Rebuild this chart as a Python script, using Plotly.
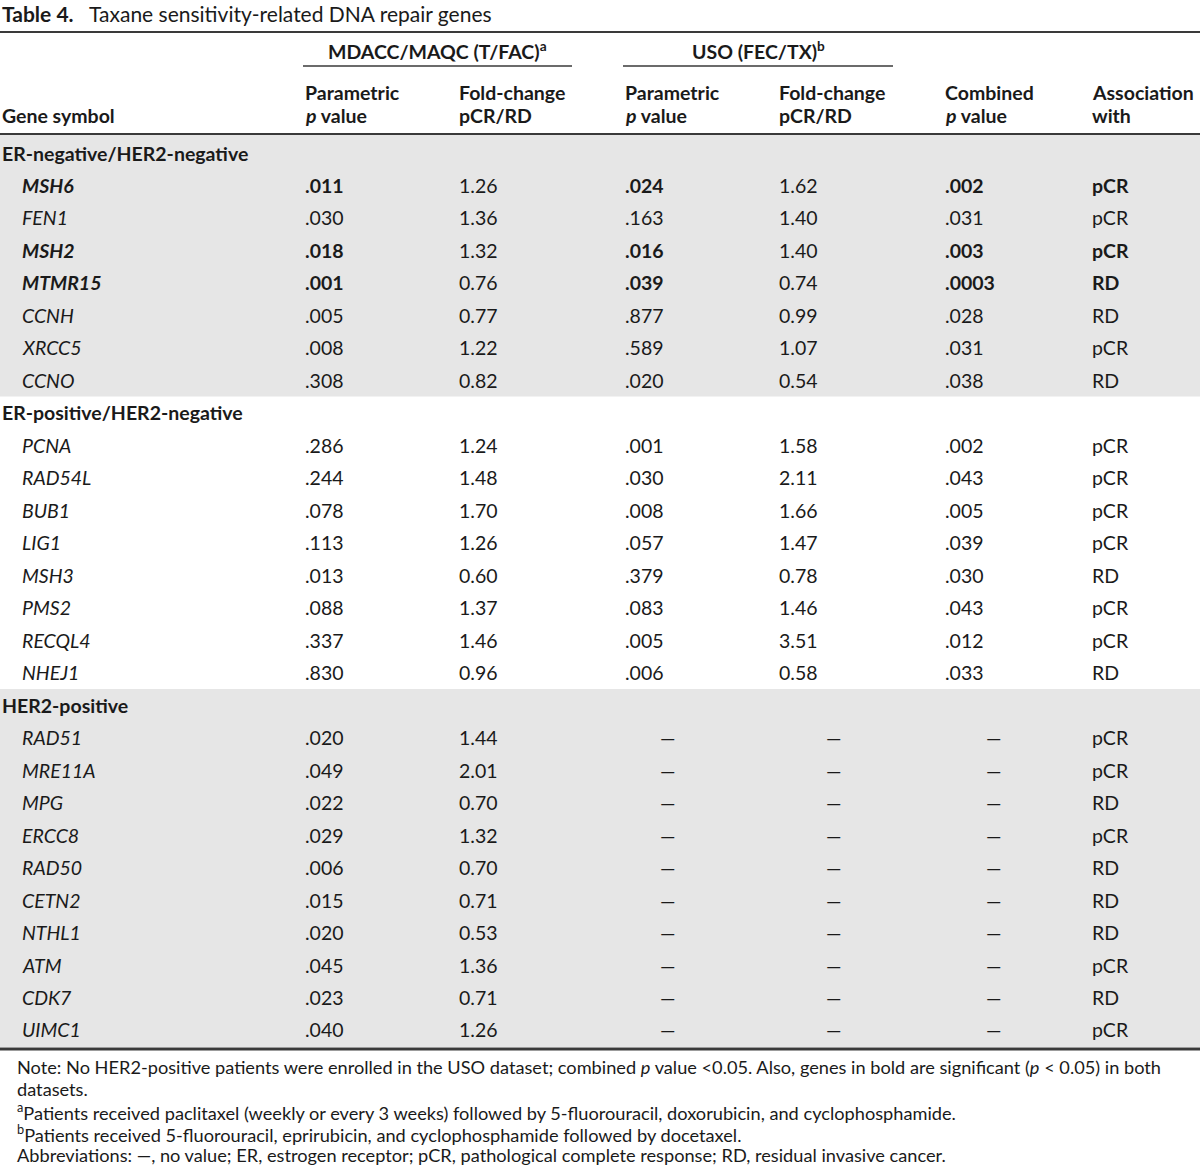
import plotly.graph_objects as go

# ---------------- data ----------------
title_label = "Table 4."
title_text = "Taxane sensitivity-related DNA repair genes"

group_headers = ["MDACC/MAQC (T/FAC)<sup>a</sup>", "USO (FEC/TX)<sup>b</sup>"]
col_headers_1 = ["Parametric", "Fold-change", "Parametric", "Fold-change", "Combined", "Association"]
col_headers_2 = ["<i>p</i> value", "pCR/RD", "<i>p</i> value", "pCR/RD", "<i>p</i> value", "with"]
first_col_header = "Gene symbol"

sections = ["ER-negative/HER2-negative", "ER-positive/HER2-negative", "HER2-positive"]

sec1_genes = ["MSH6", "FEN1", "MSH2", "MTMR15", "CCNH", "XRCC5", "CCNO"]
sec1_mdacc_p = [".011", ".030", ".018", ".001", ".005", ".008", ".308"]
sec1_mdacc_fc = ["1.26", "1.36", "1.32", "0.76", "0.77", "1.22", "0.82"]
sec1_uso_p = [".024", ".163", ".016", ".039", ".877", ".589", ".020"]
sec1_uso_fc = ["1.62", "1.40", "1.40", "0.74", "0.99", "1.07", "0.54"]
sec1_comb_p = [".002", ".031", ".003", ".0003", ".028", ".031", ".038"]
sec1_assoc = ["pCR", "pCR", "pCR", "RD", "RD", "pCR", "RD"]
sec1_bold = [True, False, True, True, False, False, False]

sec2_genes = ["PCNA", "RAD54L", "BUB1", "LIG1", "MSH3", "PMS2", "RECQL4", "NHEJ1"]
sec2_mdacc_p = [".286", ".244", ".078", ".113", ".013", ".088", ".337", ".830"]
sec2_mdacc_fc = ["1.24", "1.48", "1.70", "1.26", "0.60", "1.37", "1.46", "0.96"]
sec2_uso_p = [".001", ".030", ".008", ".057", ".379", ".083", ".005", ".006"]
sec2_uso_fc = ["1.58", "2.11", "1.66", "1.47", "0.78", "1.46", "3.51", "0.58"]
sec2_comb_p = [".002", ".043", ".005", ".039", ".030", ".043", ".012", ".033"]
sec2_assoc = ["pCR", "pCR", "pCR", "pCR", "RD", "pCR", "pCR", "RD"]
sec2_bold = [False] * 8

sec3_genes = ["RAD51", "MRE11A", "MPG", "ERCC8", "RAD50", "CETN2", "NTHL1", "ATM", "CDK7", "UIMC1"]
sec3_mdacc_p = [".020", ".049", ".022", ".029", ".006", ".015", ".020", ".045", ".023", ".040"]
sec3_mdacc_fc = ["1.44", "2.01", "0.70", "1.32", "0.70", "0.71", "0.53", "1.36", "0.71", "1.26"]
sec3_uso_p = ["—"] * 10
sec3_uso_fc = ["—"] * 10
sec3_comb_p = ["—"] * 10
sec3_assoc = ["pCR", "pCR", "RD", "pCR", "RD", "RD", "RD", "pCR", "RD", "pCR"]
sec3_bold = [False] * 10

notes = [
    "Note: No HER2-positive patients were enrolled in the USO dataset; combined <i>p</i> value &lt;0.05. Also, genes in bold are significant (<i>p</i> &lt; 0.05) in both",
    "datasets.",
    "<sup>a</sup>Patients received paclitaxel (weekly or every 3 weeks) followed by 5-fluorouracil, doxorubicin, and cyclophosphamide.",
    "<sup>b</sup>Patients received 5-fluorouracil, eprirubicin, and cyclophosphamide followed by docetaxel.",
    "Abbreviations: —, no value; ER, estrogen receptor; pCR, pathological complete response; RD, residual invasive cancer.",
]

# ---------------- layout constants ----------------
W, H = 1200, 1167
FONT = "Lato"
FS = 19.5
TXT = "#1a1a1a"
GRAY = "#e6e6e6"
RULE = "#3a3a3a"

col_x = [303, 457, 623, 777, 943, 1090]
dash_x = [667, 833, 993]
row0_y = 153
row_h = 32.48

annotations = []
shapes = []


def add_text(x, y, text, size=FS, xanchor="left", color=TXT):
    annotations.append(dict(
        x=x, y=y, xref="x", yref="y", text=text, showarrow=False,
        xanchor=xanchor, yanchor="middle", align="left",
        font=dict(family=FONT, size=size, color=color),
    ))


# title
add_text(0, 13, f"<b>{title_label}</b>   {title_text}", size=21)

# header
add_text(437, 50, f"<b>{group_headers[0]}</b>", xanchor="center")
add_text(758, 50, f"<b>{group_headers[1]}</b>", xanchor="center")
for i, x in enumerate(col_x):
    add_text(x, 92, f"<b>{col_headers_1[i]}</b>")
    add_text(x, 115, f"<b>{col_headers_2[i]}</b>")
add_text(0, 115, f"<b>{first_col_header}</b>")

# section bodies
all_sections = [
    (sec1_genes, sec1_mdacc_p, sec1_mdacc_fc, sec1_uso_p, sec1_uso_fc, sec1_comb_p, sec1_assoc, sec1_bold),
    (sec2_genes, sec2_mdacc_p, sec2_mdacc_fc, sec2_uso_p, sec2_uso_fc, sec2_comb_p, sec2_assoc, sec2_bold),
    (sec3_genes, sec3_mdacc_p, sec3_mdacc_fc, sec3_uso_p, sec3_uso_fc, sec3_comb_p, sec3_assoc, sec3_bold),
]
shaded = [True, False, True]

k = 0
for s, (name, data) in enumerate(zip(sections, all_sections)):
    genes, mp, mfc, up, ufc, cp, assoc, bold = data
    n_rows = len(genes) + 1
    top = row0_y + (k - 0.5) * row_h
    bottom = row0_y + (k + n_rows - 0.5) * row_h
    if s == 0:
        top = 135
    if s == len(sections) - 1:
        bottom = 1047
    if shaded[s]:
        shapes.append(dict(type="rect", xref="x", yref="y", x0=0, x1=W, y0=top, y1=bottom,
                           fillcolor=GRAY, line=dict(width=0), layer="below"))
    add_text(0, row0_y + k * row_h, f"<b>{name}</b>")
    k += 1
    for j, g in enumerate(genes):
        y = row0_y + k * row_h
        b = bold[j]

        def fmt(t, b=b):
            return f"<b>{t}</b>" if b else t

        add_text(20, y, f"<b><i>{g}</i></b>" if b else f"<i>{g}</i>")
        add_text(col_x[0], y, fmt(mp[j]))
        add_text(col_x[1], y, mfc[j])
        vals = [up[j], ufc[j], cp[j]]
        xs = [col_x[2], col_x[3], col_x[4]]
        for c, v in enumerate(vals):
            if v == "—":
                add_text(dash_x[c], y, v, xanchor="center")
            else:
                add_text(xs[c], y, v if c == 1 else fmt(v))
        add_text(col_x[5], y, fmt(assoc[j]))
        k += 1

# rules
shapes.append(dict(type="line", xref="x", yref="y", x0=0, x1=W, y0=32, y1=32, line=dict(color=RULE, width=2)))
shapes.append(dict(type="line", xref="x", yref="y", x0=303, x1=572, y0=66, y1=66, line=dict(color=RULE, width=1.5)))
shapes.append(dict(type="line", xref="x", yref="y", x0=623, x1=893, y0=66, y1=66, line=dict(color=RULE, width=1.5)))
shapes.append(dict(type="line", xref="x", yref="y", x0=0, x1=W, y0=134, y1=134, line=dict(color=RULE, width=2)))
shapes.append(dict(type="line", xref="x", yref="y", x0=0, x1=W, y0=1049, y1=1049, line=dict(color=RULE, width=3)))

# notes
note_y = [1067, 1089, 1111, 1133, 1155]
for t, y in zip(notes, note_y):
    add_text(15, y, t, size=18.2)

fig = go.Figure()
fig.update_layout(
    width=W, height=H,
    margin=dict(l=0, r=0, t=0, b=0),
    paper_bgcolor="white", plot_bgcolor="white",
    xaxis=dict(range=[0, W], visible=False, fixedrange=True),
    yaxis=dict(range=[H, 0], visible=False, fixedrange=True),
    annotations=annotations, shapes=shapes, showlegend=False,
    hovermode=False,
)
fig.write_html(
    "out.html",
    config={"displayModeBar": False},
    post_script="document.body.style.margin='0';document.body.style.overflow='hidden';",
)
